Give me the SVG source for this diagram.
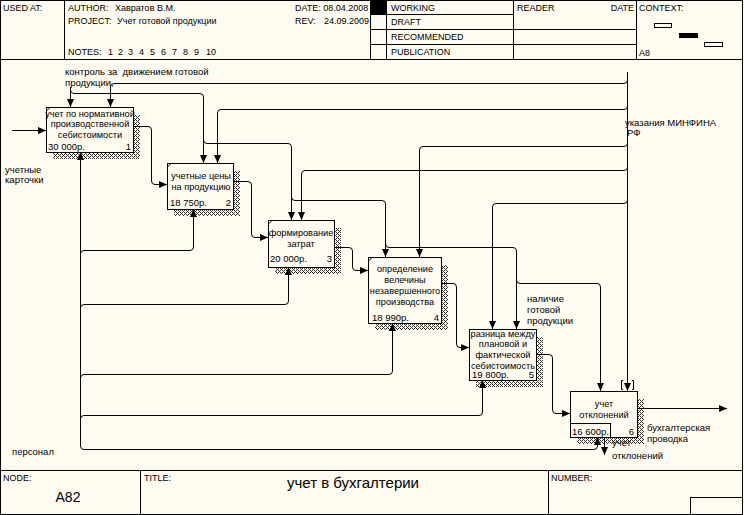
<svg xmlns="http://www.w3.org/2000/svg" width="744" height="515" viewBox="0 0 744 515">
<style>
  text { font-family: "Liberation Sans", Arial, sans-serif; fill: #000; }
  .h { font-size: 9px; }
  .t { font-size: 9.5px; }
  .b { font-size: 9.2px; }
  .c { text-anchor: middle; }
  .r { text-anchor: end; }
  .fr { fill: none; stroke: #000; stroke-width: 1; }
  .box { fill: #FFFBF0; stroke: #000; stroke-width: 1; }
  .sh { fill: url(#hatch); }
  .ln { fill: none; stroke: #000; stroke-width: 1; }
  .ar { fill: none; stroke: #000; stroke-width: 1; marker-end: url(#ah); }
</style>
<defs>
  <pattern id="hatch" width="4" height="4" patternUnits="userSpaceOnUse">
    <rect width="4" height="4" fill="#FFFBF0"/>
    <rect x="0" y="0" width="1" height="1" fill="#333"/>
    <rect x="2" y="0" width="1" height="1" fill="#333"/>
    <rect x="1" y="1" width="1" height="1" fill="#333"/>
    <rect x="0" y="2" width="1" height="1" fill="#333"/>
    <rect x="2" y="2" width="1" height="1" fill="#333"/>
    <rect x="3" y="3" width="1" height="1" fill="#333"/>
  </pattern>
  <marker id="ah" viewBox="0 0 8 7" refX="8" refY="3.5" markerWidth="8" markerHeight="7" orient="auto" markerUnits="userSpaceOnUse">
    <path d="M0,0 L8,3.5 L0,7 Z" fill="#000"/>
  </marker>
</defs>
<rect x="0" y="0" width="744" height="515" fill="#FFFBF0"/>

<g id="frame">
  <rect class="fr" x="0.5" y="0.5" width="742" height="514"/>
  <line class="fr" x1="0" y1="59.5" x2="743" y2="59.5"/>
  <line class="fr" x1="64.5" y1="0" x2="64.5" y2="59.5"/>
  <line class="fr" x1="370.5" y1="0" x2="370.5" y2="59.5"/>
  <line class="fr" x1="386.5" y1="0" x2="386.5" y2="59.5"/>
  <line class="fr" x1="513.5" y1="0" x2="513.5" y2="59.5"/>
  <line class="fr" x1="636.5" y1="0" x2="636.5" y2="59.5"/>
  <line class="fr" x1="370" y1="14.5" x2="513.5" y2="14.5"/>
  <line class="fr" x1="370" y1="29.5" x2="636.5" y2="29.5"/>
  <line class="fr" x1="370" y1="44.5" x2="636.5" y2="44.5"/>
  <rect x="371" y="1" width="15" height="13.5" fill="#000"/>
  <rect class="fr" x="654.5" y="23.5" width="17" height="4"/>
  <rect x="679" y="33" width="19" height="5" fill="#000"/>
  <rect class="fr" x="704.5" y="42.5" width="18" height="4"/>
  <text class="h" x="3" y="10.5">USED AT:</text>
  <text class="h" x="68" y="10.5">AUTHOR:<tspan x="115">Хавратов В.М.</tspan></text>
  <text class="h" x="68" y="23.5">PROJECT:<tspan x="117">Учет готовой продукции</tspan></text>
  <text class="h" x="68" y="55">NOTES:<tspan x="108">1</tspan><tspan x="118">2</tspan><tspan x="128">3</tspan><tspan x="139">4</tspan><tspan x="150">5</tspan><tspan x="161">6</tspan><tspan x="172">7</tspan><tspan x="183">8</tspan><tspan x="194">9</tspan><tspan x="206">10</tspan></text>
  <text class="h" x="295" y="10.5">DATE: 08.04.2008</text>
  <text class="h" x="295" y="23.5">REV:<tspan x="324">24.09.2009</tspan></text>
  <text class="h" x="391" y="10.5">WORKING</text>
  <text class="h" x="391" y="25">DRAFT</text>
  <text class="h" x="391" y="39.5">RECOMMENDED</text>
  <text class="h" x="391" y="54.5">PUBLICATION</text>
  <text class="h" x="517" y="10.5">READER</text>
  <text class="h r" x="634" y="10.5">DATE</text>
  <text class="h" x="639" y="10.5">CONTEXT:</text>
  <text class="h" x="639" y="56">A8</text>
  <line class="fr" x1="0" y1="470.5" x2="743" y2="470.5"/>
  <line class="fr" x1="140.5" y1="470.5" x2="140.5" y2="515"/>
  <line class="fr" x1="548.5" y1="470.5" x2="548.5" y2="515"/>
  <rect class="fr" x="690.5" y="497.5" width="52" height="17"/>
  <text class="h" x="3" y="481">NODE:</text>
  <text x="68" y="502" font-size="14" class="c">A82</text>
  <text class="h" x="144" y="481">TITLE:</text>
  <text x="353" y="488" font-size="15" class="c">учет в бухгалтерии</text>
  <text class="h" x="551" y="481">NUMBER:</text>
</g>

<g id="shadows">
  <path class="sh" d="M133,115 H140 V159 H53 V152 H133 Z"/>
  <path class="sh" d="M233,171 H240 V216 H174 V209 H233 Z"/>
  <path class="sh" d="M334,228 H341 V274 H275 V267 H334 Z"/>
  <path class="sh" d="M441,265 H448 V330 H375 V323 H441 Z"/>
  <path class="sh" d="M536,337 H543 V387 H476 V380 H536 Z"/>
  <path class="sh" d="M637,399 H644 V444 H577 V437 H637 Z"/>
</g>

<g id="box1">
  <rect class="box" x="46.5" y="107.5" width="87" height="45"/>
  <line class="ln" x1="46.5" y1="111" x2="50" y2="107.5"/>
  <text class="b c" x="90" y="117">учет по нормативной</text>
  <text class="b c" x="90" y="127">производственной</text>
  <text class="b c" x="90" y="138">себистоимости</text>
  <text class="t" x="48" y="150">30 000р.</text>
  <text class="t r" x="131" y="150">1</text>
</g>
<g id="box2">
  <rect class="box" x="167.5" y="163.5" width="66" height="46"/>
  <line class="ln" x1="167.5" y1="167" x2="171" y2="163.5"/>
  <text class="b c" x="201" y="179">учетные цены</text>
  <text class="b c" x="201" y="190">на продукцию</text>
  <text class="t" x="170" y="206">18 750р.</text>
  <text class="t r" x="231" y="206">2</text>
</g>
<g id="box3">
  <rect class="box" x="268.5" y="220.5" width="66" height="47"/>
  <line class="ln" x1="268.5" y1="224" x2="272" y2="220.5"/>
  <text class="b c" x="301" y="236">формирование</text>
  <text class="b c" x="301" y="247">затрат</text>
  <text class="t" x="270" y="262">20 000р.</text>
  <text class="t r" x="332" y="262">3</text>
</g>
<g id="box4">
  <rect class="box" x="368.5" y="257.5" width="73" height="66"/>
  <line class="ln" x1="368.5" y1="261" x2="372" y2="257.5"/>
  <text class="b c" x="405" y="272">определение</text>
  <text class="b c" x="405" y="283">велечины</text>
  <text class="b c" x="405" y="294">незавершенного</text>
  <text class="b c" x="405" y="305">производства</text>
  <text class="t" x="372" y="321">18 990р.</text>
  <text class="t r" x="439" y="321">4</text>
</g>
<g id="box5">
  <rect class="box" x="469.5" y="329.5" width="67" height="51"/>
  <text class="b c" x="503" y="336.5">разница между</text>
  <text class="b c" x="503" y="347">плановой и</text>
  <text class="b c" x="503" y="358">фактической</text>
  <text class="b c" x="503" y="368.5">себистоимость</text>
  <text class="t" x="472" y="378">19 800р.</text>
  <text class="t r" x="534" y="378">5</text>
</g>
<g id="box6">
  <rect class="box" x="570.5" y="391.5" width="67" height="46"/>
  <rect class="fr" x="570.5" y="423.5" width="40" height="14"/>
  <text class="b c" x="604" y="407">учет</text>
  <text class="b c" x="604" y="417.5">отклонений</text>
  <text class="t" x="572" y="435">16 600р.</text>
  <text class="t r" x="634" y="435">6</text>
</g>

<g id="connectors">
  <path class="ar" d="M12,130.5 H46"/>
  <path class="ar" d="M133,126.5 H148 Q151.5,126.5 151.5,130 V181 Q151.5,184.5 155,184.5 H167"/>
  <path class="ar" d="M233,181.5 H248 Q251.5,181.5 251.5,185 V234 Q251.5,237.5 255,237.5 H268"/>
  <path class="ar" d="M334,247.5 H349 Q352.5,247.5 352.5,251 V267 Q352.5,270.5 356,270.5 H368"/>
  <path class="ar" d="M441,283.5 H453 Q456.5,283.5 456.5,287 V344 Q456.5,347.5 460,347.5 H469"/>
  <path class="ar" d="M536,354.5 H549 Q552.5,354.5 552.5,358 V410 Q552.5,413.5 556,413.5 H570"/>
  <path class="ar" d="M637,408.5 H727"/>
  <path class="ar" d="M604.5,437 V455"/>

  <path class="ar" d="M70.5,87 V107"/>
  <path class="ar" d="M70.5,90 Q70.5,93.5 74,93.5 H200 Q203.5,93.5 203.5,97 V163"/>
  <path class="ar" d="M203.5,140 Q203.5,143.5 207,143.5 H288 Q291.5,143.5 291.5,147 V220"/>
  <path class="ar" d="M291.5,197 Q291.5,200.5 295,200.5 H382 Q385.5,200.5 385.5,204 V257"/>
  <path class="ar" d="M385.5,244 Q385.5,247.5 389,247.5 H513 Q516.5,247.5 516.5,251 V329"/>
  <path class="ar" d="M516.5,280 Q516.5,283.5 520,283.5 H597 Q600.5,283.5 600.5,287 V391"/>

  <path class="ar" d="M627.5,72 V391"/>
  <path class="ln" d="M623,380.5 H621.5 V389.5 H623 M632,380.5 H633.5 V389.5 H632"/>
  <path class="ar" d="M627.5,80 Q627.5,83.5 624,83.5 H114 Q110.5,83.5 110.5,87 V107"/>
  <path class="ar" d="M627.5,106 Q627.5,109.5 624,109.5 H221 Q217.5,109.5 217.5,113 V163"/>
  <path class="ar" d="M627.5,143 Q627.5,146.5 624,146.5 H423 Q419.5,146.5 419.5,150 V257"/>
  <path class="ar" d="M627.5,167 Q627.5,170.5 624,170.5 H305 Q301.5,170.5 301.5,174 V220"/>
  <path class="ar" d="M627.5,200 Q627.5,203.5 624,203.5 H496 Q492.5,203.5 492.5,207 V329"/>

  <path class="ar" d="M80.5,446 V152"/>
  <path class="ar" d="M80.5,254 Q80.5,250.5 84,250.5 H190 Q193.5,250.5 193.5,247 V209"/>
  <path class="ar" d="M80.5,308 Q80.5,304.5 84,304.5 H285 Q288.5,304.5 288.5,301 V267"/>
  <path class="ar" d="M80.5,378 Q80.5,374.5 84,374.5 H389 Q392.5,374.5 392.5,371 V323"/>
  <path class="ar" d="M80.5,419 Q80.5,415.5 84,415.5 H479 Q482.5,415.5 482.5,412 V380"/>
  <path class="ar" d="M80.5,446 Q80.5,449.5 84,449.5 H594 Q597.5,449.5 597.5,446 V437"/>
</g>

<g id="labels">
  <text class="t" x="65" y="75" xml:space="preserve">контроль за  движением готовой</text>
  <text class="t" x="65" y="86">продукции,</text>
  <text class="t" x="5" y="173">учетные</text>
  <text class="t" x="5" y="183">карточки</text>
  <text class="t" x="12" y="455">персонал</text>
  <text class="t" x="625" y="126">указания МИНФИНА</text>
  <text class="t" x="627" y="136">РФ</text>
  <text class="t" x="527" y="302">наличие</text>
  <text class="t" x="527" y="313">готовой</text>
  <text class="t" x="527" y="323.5">продукции</text>
  <text class="t" x="647" y="431">бухгалтерская</text>
  <text class="t" x="647" y="442">проводка</text>
  <text class="t" x="612" y="446">учет</text>
  <text class="t" x="612" y="459">отклонений</text>
</g>
</svg>
